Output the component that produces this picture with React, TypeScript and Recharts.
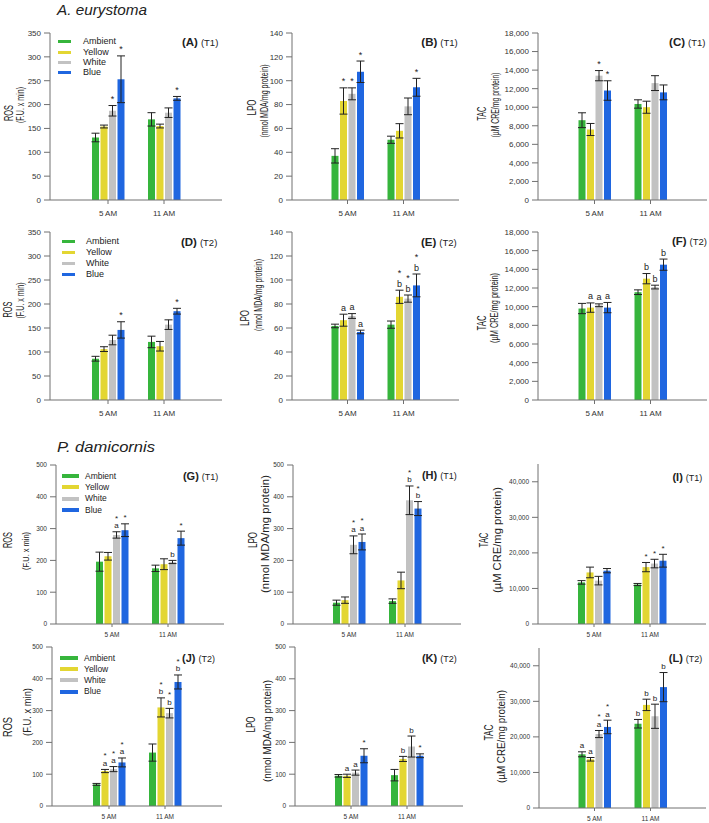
import React from 'react';
import { BarChart, Bar, XAxis, YAxis, ErrorBar, Legend } from 'recharts';

const FONT = "'Liberation Sans', Arial, Helvetica, sans-serif";
const AXIS = '#707070';
const INK = '#222';

const times = ['5 AM', '11 AM'];
const treatments = ['Ambient', 'Yellow', 'White', 'Blue'];
const colors = ['#36b53c', '#e3d632', '#c2c2c2', '#1f66e0'];

const ticksRos = [0, 50, 100, 150, 200, 250, 300, 350];
const ticksLpo = [0, 20, 40, 60, 80, 100, 120, 140];
const ticksTac = [0, 2000, 4000, 6000, 8000, 10000, 12000, 14000, 16000, 18000];
const ticks500 = [0, 100, 200, 300, 400, 500];
const ticksTacP = [0, 10000, 20000, 30000, 40000];

const none = [['', ''], ['', ''], ['', ''], ['', '']];

// rows = Ambient, Yellow, White, Blue ; cols = 5 AM, 11 AM
// (A) ROS T1 A. eurystoma
const aMean = [[131, 169], [154, 155], [187, 183], [253, 213]];
const aErr = [[9, 14], [3, 4], [11, 10], [49, 4]];
const aStar = [['', ''], ['', ''], ['*', ''], ['*', '*']];
// (B) LPO T1
const bMean = [[37, 50.5], [83, 58], [89, 78.5], [107.5, 94.5]];
const bErr = [[6, 3], [11, 6], [5, 7], [9, 7.5]];
const bStar = [['', ''], ['*', ''], ['*', ''], ['*', '*']];
// (C) TAC T1
const cMean = [[8600, 10350], [7600, 10000], [13400, 12600], [11800, 11600]];
const cErr = [[800, 450], [650, 650], [550, 800], [1050, 800]];
const cStar = [['', ''], ['', ''], ['*', ''], ['*', '']];
// (D) ROS T2
const dMean = [[86, 121], [106, 112], [125, 157], [146, 185]];
const dErr = [[5, 12], [5, 10], [10, 10], [17, 6]];
const dStar = [['', ''], ['', ''], ['', ''], ['*', '*']];
// (E) LPO T2
const eMean = [[61.7, 62.8], [66.5, 86], [70, 84.5], [56.7, 95.5]];
const eErr = [[1.5, 3], [5, 5.5], [2, 3], [1.5, 9.5]];
const eStar = [['', ''], ['', '*'], ['', '*'], ['', '*']];
const eLet = [['', ''], ['a', 'b'], ['a', 'b'], ['a', 'b']];
// (F) TAC T2
const fMean = [[9800, 11550], [9900, 13000], [10150, 12100], [9900, 14500]];
const fErr = [[550, 250], [500, 550], [150, 200], [550, 600]];
const fLet = [['', ''], ['a', 'b'], ['a', 'b'], ['a', 'b']];
// (G) ROS T1 P. damicornis
const gMean = [[196, 175], [213, 188], [280, 195], [295, 270]];
const gErr = [[30, 10], [12, 17], [10, 5], [20, 22]];
const gStar = [['', ''], ['', ''], ['*', ''], ['*', '*']];
const gLet = [['', ''], ['', ''], ['a', 'b'], ['', '']];
// (H) LPO T1
const hMean = [[67, 72], [75, 137], [249, 389], [258, 363]];
const hErr = [[8, 7], [10, 26], [28, 45], [25, 22]];
const hStar = [['', ''], ['', ''], ['*', '*'], ['*', '*']];
const hLet = [['', ''], ['', ''], ['a', 'b'], ['a', 'b']];
// (I) TAC T1
const iMean = [[11700, 11100], [14500, 16000], [12200, 17000], [15000, 17800]];
const iErr = [[500, 300], [1500, 1300], [1200, 1200], [600, 1800]];
const iStar = [['', ''], ['', '*'], ['', '*'], ['', '*']];
// (J) ROS T2
const jMean = [[68, 168], [110, 310], [116, 292], [137, 390]];
const jErr = [[3, 27], [5, 30], [8, 15], [14, 22]];
const jStar = [['', ''], ['*', '*'], ['*', '*'], ['*', '*']];
const jLet = [['', ''], ['a', 'b'], ['a', 'b'], ['a', 'b']];
// (K) LPO T2
const kMean = [[95, 97], [95, 148], [105, 187], [158, 158]];
const kErr = [[4, 18], [5, 8], [8, 33], [22, 6]];
const kStar = [['', ''], ['', ''], ['', ''], ['*', '*']];
const kLet = [['', ''], ['a', 'b'], ['a', 'b'], ['', '']];
// (L) TAC T2
const lMean = [[15100, 23700], [13700, 29000], [20800, 25800], [22800, 34000]];
const lErr = [[700, 1200], [500, 1600], [1000, 3400], [1900, 4100]];
const lStar = [['', ''], ['', ''], ['*', ''], ['*', '']];
const lLet = [['a', 'b'], ['a', 'b'], ['a', 'b'], ['a', 'b']];

function buildRows(mean, err, star, letter) {
  return times.map((t, ti) => {
    const r: any = { time: t };
    for (let i = 0; i < 4; i++) {
      r['v' + i] = mean[i][ti];
      r['e' + i] = err[i][ti];
      r['s' + i] = star[i][ti];
      r['l' + i] = letter[i][ti];
    }
    return r;
  });
}

const legA = { sx: 58, lx: 83, cy: 42, gap: 10.3, sw: 13, th: 3, fs: 9 };
const legD = { sx: 62, lx: 86, cy: 241.7, gap: 10.8, sw: 13, th: 3, fs: 9 };
const legG = { sx: 62, lx: 85, cy: 476, gap: 11.3, sw: 17, th: 4, fs: 8.5 };
const legJ = { sx: 60, lx: 84, cy: 658, gap: 11.2, sw: 18, th: 4, fs: 8.5 };

const panels = [
  { id: 'A', x0: 50, y0: 33, x1: 222, y1: 200, domain: [0, 350], ticks: ticksRos, big: true, data: buildRows(aMean, aErr, aStar, none), legend: legA, tag: '(A)', tt: '(T1)', tx: 218.3, ty: 46,
    yl: [{ t: 'ROS', cx: 9, cy: 113, fs: 12.5, len: 16 }, { t: '(F.U. x min)', cx: 20, cy: 105, fs: 11, len: 36 }] },
  { id: 'B', x0: 292, y0: 33, x1: 459, y1: 200, domain: [0, 140], ticks: ticksLpo, big: true, data: buildRows(bMean, bErr, bStar, none), tag: '(B)', tt: '(T1)', tx: 457.7, ty: 46,
    yl: [{ t: 'LPO', cx: 251.5, cy: 107.5, fs: 12.5, len: 16 }, { t: '(nmol MDA/mg protein)', cx: 264, cy: 101, fs: 11, len: 73 }] },
  { id: 'C', x0: 538, y0: 33, x1: 707, y1: 200, domain: [0, 18000], ticks: ticksTac, big: true, data: buildRows(cMean, cErr, cStar, none), tag: '(C)', tt: '(T1)', tx: 705.5, ty: 46,
    yl: [{ t: 'TAC', cx: 482, cy: 113.7, fs: 12.5, len: 14 }, { t: '(\u00b5M CRE/mg protein)', cx: 494.5, cy: 105, fs: 11, len: 65 }] },
  { id: 'D', x0: 50, y0: 232, x1: 222, y1: 400, domain: [0, 350], ticks: ticksRos, big: true, data: buildRows(dMean, dErr, dStar, none), legend: legD, tag: '(D)', tt: '(T2)', tx: 217.3, ty: 245.5,
    yl: [{ t: 'ROS', cx: 8, cy: 309.5, fs: 12.5, len: 16 }, { t: '(F.U. x min)', cx: 20, cy: 300.5, fs: 11, len: 36 }] },
  { id: 'E', x0: 292, y0: 232, x1: 459, y1: 400, domain: [0, 140], ticks: ticksLpo, big: true, data: buildRows(eMean, eErr, eStar, eLet), tag: '(E)', tt: '(T2)', tx: 456.7, ty: 246,
    yl: [{ t: 'LPO', cx: 245, cy: 318, fs: 12.5, len: 16 }, { t: '(nmol MDA/mg protein)', cx: 257.5, cy: 295, fs: 11, len: 72 }] },
  { id: 'F', x0: 538, y0: 232, x1: 707, y1: 400, domain: [0, 18000], ticks: ticksTac, big: true, data: buildRows(fMean, fErr, none, fLet), tag: '(F)', tt: '(T2)', tx: 707, ty: 244.5,
    yl: [{ t: 'TAC', cx: 482, cy: 323, fs: 12.5, len: 15 }, { t: '(\u00b5M CRE/mg protein)', cx: 494, cy: 308, fs: 11, len: 70 }] },
  { id: 'G', x0: 56, y0: 465, x1: 224, y1: 624, domain: [0, 500], ticks: ticks500, big: false, data: buildRows(gMean, gErr, gStar, gLet), legend: legG, tag: '(G)', tt: '(T1)', tx: 218.3, ty: 479.5,
    yl: [{ t: 'ROS', cx: 8, cy: 540, fs: 12, len: 16 }, { t: '(F.U. x min)', cx: 26, cy: 551, fs: 9, len: 38 }] },
  { id: 'H', x0: 293, y0: 465, x1: 461, y1: 624, domain: [0, 500], ticks: ticks500, big: false, data: buildRows(hMean, hErr, hStar, hLet), tag: '(H)', tt: '(T1)', tx: 456.7, ty: 479,
    yl: [{ t: 'LPO', cx: 253, cy: 540, fs: 12, len: 16 }, { t: '(nmol MDA/mg protein)', cx: 265.5, cy: 534, fs: 10, len: 118 }] },
  { id: 'I', x0: 538, y0: 464, x1: 706, y1: 624, domain: [0, 45000], ticks: ticksTacP, big: false, data: buildRows(iMean, iErr, iStar, none), tag: '(I)', tt: '(T1)', tx: 702.3, ty: 481,
    yl: [{ t: 'TAC', cx: 484, cy: 540, fs: 12, len: 15 }, { t: '(\u00b5M CRE/mg protein)', cx: 496.5, cy: 540, fs: 10.5, len: 106 }] },
  { id: 'J', x0: 52, y0: 647, x1: 222, y1: 806, domain: [0, 500], ticks: ticks500, big: false, data: buildRows(jMean, jErr, jStar, jLet), legend: legJ, tag: '(J)', tt: '(T2)', tx: 215, ty: 661.7,
    yl: [{ t: 'ROS', cx: 8, cy: 727, fs: 12, len: 20 }, { t: '(F.U. x min)', cx: 27, cy: 712, fs: 11, len: 48 }] },
  { id: 'K', x0: 295, y0: 647, x1: 463, y1: 806, domain: [0, 500], ticks: ticks500, big: false, data: buildRows(kMean, kErr, kStar, kLet), tag: '(K)', tt: '(T2)', tx: 456.7, ty: 662.3,
    yl: [{ t: 'LPO', cx: 251, cy: 724.5, fs: 12, len: 16 }, { t: '(nmol MDA/mg protein)', cx: 267.5, cy: 731, fs: 10, len: 102 }] },
  { id: 'L', x0: 539, y0: 648, x1: 706, y1: 808, domain: [0, 45000], ticks: ticksTacP, big: false, data: buildRows(lMean, lErr, lStar, lLet), tag: '(L)', tt: '(T2)', tx: 702.3, ty: 662.3,
    yl: [{ t: 'TAC', cx: 489, cy: 732.5, fs: 12, len: 16 }, { t: '(\u00b5M CRE/mg protein)', cx: 501.5, cy: 736.5, fs: 10, len: 93 }] },
];

const fmt = (v: number) => v.toLocaleString('en-US');

function makeShape(i: number, p: any) {
  const afs = p.big ? 9 : 8;
  const starGap = p.big ? 10.5 : 7.5;
  return (props: any) => {
    const { x, y, width, height, index } = props;
    const row = props.payload || p.data[index];
    const v = row['v' + i];
    const e = row['e' + i];
    const star = row['s' + i];
    const letter = row['l' + i];
    const per = v > 0 ? height / v : 0;
    const errTop = y - e * per;
    const cx = x + width / 2;
    let base = errTop - 3.5;
    const marks: any[] = [];
    if (letter) {
      marks.push(<text key="l" x={cx} y={base} textAnchor="middle" fontSize={afs} fill={INK} fontFamily={FONT}>{letter}</text>);
      base -= starGap;
    }
    if (star) {
      marks.push(<text key="s" x={cx} y={base} textAnchor="middle" fontSize={afs} fill={INK} fontFamily={FONT}>*</text>);
    }
    return (
      <g>
        <rect x={x} y={y} width={width} height={height} fill={colors[i]} />
        {marks}
      </g>
    );
  };
}

function LegendBox({ payload, lg }: any) {
  const items = treatments.map((t, i) => {
    const found = (payload || []).find((e: any) => e.value === t);
    return { value: t, color: found && found.color ? found.color : colors[i] };
  });
  return (
    <div style={{ fontFamily: FONT, fontSize: lg.fs, color: INK }}>
      {items.map((e: any, i: number) => (
        <div key={i} style={{ display: 'flex', alignItems: 'center', height: lg.gap }}>
          <span style={{ display: 'inline-block', width: lg.sw, height: lg.th, background: e.color, marginRight: lg.lx - lg.sx - lg.sw }} />
          <span style={{ lineHeight: 1, whiteSpace: 'nowrap' }}>{e.value}</span>
        </div>
      ))}
    </div>
  );
}

function Panel({ p }: any) {
  const L = 46, T = 12, B = 22, R = 4;
  const w = p.x1 - p.x0;
  const h = p.y1 - p.y0;
  const pad = (w - 112) / 2;
  const fs = p.big ? 8 : 6.5;
  const chartLeft = p.x0 - L;
  const chartTop = p.y0 - T;
  const tickStyle = { fontSize: fs, fill: '#333', fontFamily: FONT };
  return (
    <div style={{ position: 'absolute', left: chartLeft, top: chartTop }}>
      <BarChart width={w + L + R} height={h + T + B} data={p.data} margin={{ top: T, right: R, bottom: 0, left: 0 }} barGap={1.5} barCategoryGap={0}>
        <XAxis dataKey="time" height={B} padding={{ left: pad, right: pad }} tick={tickStyle} tickLine={{ stroke: AXIS }} tickSize={p.big ? 4 : 3} tickMargin={p.big ? 6 : 5} axisLine={{ stroke: AXIS }} interval={0} />
        <XAxis xAxisId="top" dataKey="time" orientation="top" height={0} tick={false} tickLine={false} axisLine={{ stroke: AXIS }} />
        <YAxis width={L} type="number" domain={p.domain} ticks={p.ticks} interval={0} allowDataOverflow tick={tickStyle} tickFormatter={fmt} tickSize={6} tickMargin={3} tickLine={{ stroke: AXIS }} axisLine={{ stroke: AXIS }} />
        <YAxis yAxisId="r" orientation="right" width={0} type="number" domain={[0, 1]} tick={false} tickLine={false} axisLine={{ stroke: AXIS }} />
        {p.legend ? (
          <Legend layout="vertical" align="center" verticalAlign="middle"
            wrapperStyle={{ position: 'absolute', left: p.legend.sx - chartLeft, top: p.legend.cy - p.legend.gap / 2 - chartTop, width: 'auto', height: 'auto' }}
            content={(props: any) => <LegendBox payload={props.payload} lg={p.legend} />} />
        ) : null}
        {treatments.map((name, i) => (
          <Bar key={name} dataKey={'v' + i} name={name} fill={colors[i]} barSize={7} isAnimationActive={false} shape={makeShape(i, p)}>
            <ErrorBar dataKey={'e' + i} width={4} strokeWidth={1} stroke={INK} />
          </Bar>
        ))}
      </BarChart>
    </div>
  );
}

export default function App() {
  return (
    <div style={{ position: 'absolute', left: 0, top: 0, width: 709, height: 823, background: '#fff', fontFamily: FONT, overflow: 'hidden' }}>
      {panels.map((p) => <Panel key={p.id} p={p} />)}
      <svg width={709} height={823} style={{ position: 'absolute', left: 0, top: 0, pointerEvents: 'none' }} fontFamily={FONT}>
        <text x={57} y={15} fontSize={15} fontStyle="italic" fill={INK} textLength={90} lengthAdjust="spacingAndGlyphs">A. eurystoma</text>
        <text x={57} y={452} fontSize={15.5} fontStyle="italic" fill={INK} textLength={98} lengthAdjust="spacingAndGlyphs">P. damicornis</text>
        {panels.map((p) => (
          <g key={p.id}>
            <text x={p.tx} y={p.ty} textAnchor="end" fill={INK}>
              <tspan fontWeight="bold" fontSize={p.big ? 11.5 : 11}>{p.tag}</tspan>
              <tspan fontSize={p.big ? 9.5 : 9} dx={3}>{p.tt}</tspan>
            </text>
            {p.yl.map((l: any, k: number) => (
              <text key={k} transform={`translate(${l.cx},${l.cy}) rotate(-90)`} textAnchor="middle" dominantBaseline="central" fontSize={l.fs} fill={INK} textLength={l.len} lengthAdjust="spacingAndGlyphs">{l.t}</text>
            ))}
          </g>
        ))}
      </svg>
    </div>
  );
}
